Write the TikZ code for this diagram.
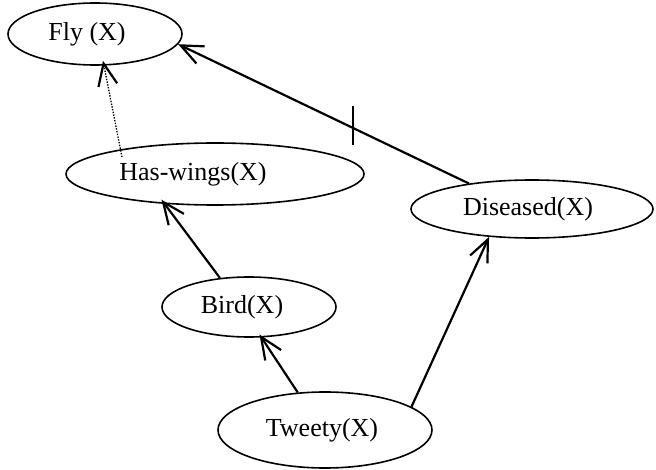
\documentclass[tikz,border=0pt]{standalone}
\usepackage{fontspec}
\setmainfont{Liberation Serif}
\usetikzlibrary{shapes.geometric,arrows.meta}
\begin{document}
\begin{tikzpicture}[x=1pt,y=-1pt,
  ell/.style={ellipse,draw,line width=1.6pt,inner sep=0pt,font=\fontsize{26}{30}\selectfont},
  conn/.style={line width=2.2pt,-{Straight Barb[length=22pt,width=19pt]}},
  dotconn/.style={line width=1.3pt,dash pattern=on 1.4pt off 1.4pt,
    arrows={-{Straight Barb[length=22pt,width=19pt,line width=2.2pt,sep=0pt]}}},
  tickmark/.style={line width=2.2pt}]
\useasboundingbox (0,0) rectangle (656,470);
\node[ell,minimum width=174pt,minimum height=62pt] (fly) at (95,34) {Fly (X)\hspace*{16pt}};
\node[ell,minimum width=298pt,minimum height=62pt] (hw) at (215,174) {Has-wings(X)\hspace*{44pt}};
\node[ell,minimum width=242pt,minimum height=58pt] (dis) at (532,209) {Diseased(X)\hspace*{8pt}};
\node[ell,minimum width=174pt,minimum height=60pt] (bird) at (249,307) {Bird(X)\hspace*{14pt}};
\node[ell,minimum width=214pt,minimum height=76pt] (tw) at (325,430) {Tweety(X)\hspace*{6pt}};
\draw[dotconn] ([yshift=-8pt]hw.165) -- ([xshift=8pt,yshift=5pt]fly.south);
\draw[conn] (dis.158) -- (fly.-7) coordinate[pos=0.4] (tk);
\draw[tickmark] ([yshift=22pt]tk) -- ([yshift=-17pt]tk);
\draw[conn] (bird.135) -- ([yshift=4pt]hw.209);
\draw[conn] (tw.126) -- ([yshift=3pt]bird.-71);
\draw[conn] (tw.15) -- (dis.213);
\end{tikzpicture}
\end{document}
